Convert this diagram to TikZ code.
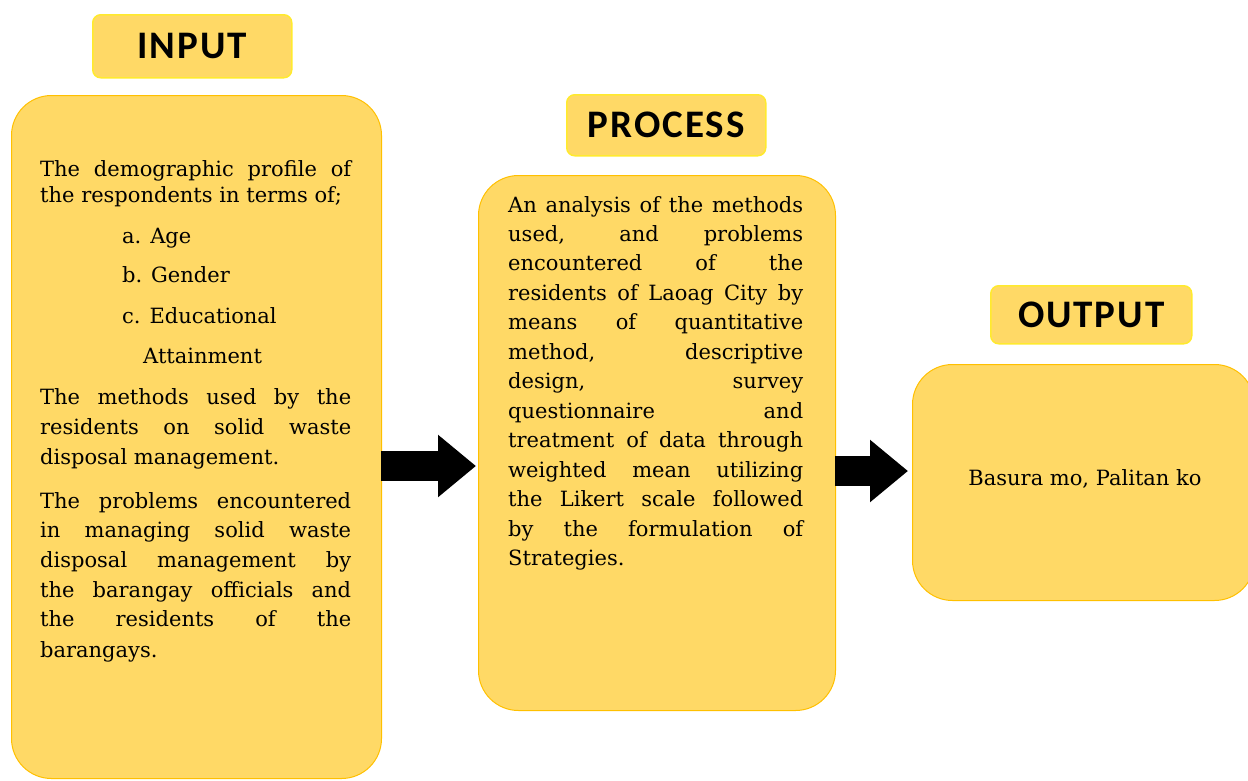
\documentclass[tikz,border=0pt]{standalone}
\usepackage{fontspec}
\setmainfont{DejaVu Serif}
\newfontfamily\headfont[LetterSpace=5]{Carlito}
\usetikzlibrary{arrows.meta}
\definecolor{boxfill}{HTML}{FFD966}
\definecolor{boxline}{HTML}{FFC000}
\definecolor{labline}{HTML}{FFEA2E}
\newcommand\jl[2]{\makebox[#1][s]{#2}}
\begin{document}
\begin{tikzpicture}[x=1pt,y=-1pt,
  bigbox/.style={draw=boxline, line width=1pt, fill=boxfill, rounded corners=40pt, anchor=north west, inner sep=0pt},
  labbox/.style={draw=labline, line width=1.5pt, fill=boxfill, rounded corners=8pt, anchor=north west, inner sep=0pt,
    font=\headfont\bfseries\fontsize{39}{44}\selectfont},
  txt/.style={anchor=base west, inner sep=0pt, font=\fontsize{21}{25}\selectfont},
  bigarrow/.style={line width=30pt, -{Triangle[length=38pt,width=60pt]}}]
\useasboundingbox (0,0) rectangle (1248,780);
% boxes
\node[bigbox, minimum width=370pt, minimum height=683pt] (inbox) at (11,95) {};
\node[bigbox, minimum width=357pt, minimum height=535pt] (procbox) at (478,175) {};
\node[bigbox, minimum width=342pt, minimum height=236pt] (outbox) at (912,364) {};
% labels
\node[labbox, minimum width=199pt, minimum height=63pt] (inlab) at (92,14) {INPUT};
\node[labbox, minimum width=199pt, minimum height=61pt] (proclab) at (566,94) {PROCESS};
\node[labbox, minimum width=201pt, minimum height=58pt] (outlab) at (990,285) {OUTPUT};
% input text
\node[txt] (i1) at (40,176) {\jl{311pt}{The demographic profile of}};
\node[txt] (i2) at (40,202) {the respondents in terms of;};
\node[txt] (i3) at (122,243) {a. Age};
\node[txt] (i4) at (122,282) {b. Gender};
\node[txt] (i5) at (122,323) {c. Educational};
\node[txt] (i6) at (143,363) {Attainment};
\node[txt] (i7) at (40,404) {\jl{311pt}{The methods used by the}};
\node[txt] (i8) at (40,434) {\jl{311pt}{residents on solid waste}};
\node[txt] (i9) at (40,464) {disposal management.};
\node[txt] (i10) at (40,508) {\jl{311pt}{The problems encountered}};
\node[txt] (i11) at (40,537) {\jl{311pt}{in managing solid waste}};
\node[txt] (i12) at (40,567) {\jl{311pt}{disposal management by}};
\node[txt] (i13) at (40,597) {\jl{311pt}{the barangay officials and}};
\node[txt] (i14) at (40,626) {\jl{311pt}{the residents of the}};
\node[txt] (i15) at (40,657) {barangays.};
% process text
\node[txt] (p1) at (508,212) {\jl{295pt}{An analysis of the methods}};
\node[txt] (p2) at (508,241) {\jl{295pt}{used, and problems}};
\node[txt] (p3) at (508,270) {\jl{295pt}{encountered of the}};
\node[txt] (p4) at (508,300) {\jl{295pt}{residents of Laoag City by}};
\node[txt] (p5) at (508,329) {\jl{295pt}{means of quantitative}};
\node[txt] (p6) at (508,359) {\jl{295pt}{method, descriptive}};
\node[txt] (p7) at (508,388) {\jl{295pt}{design, survey}};
\node[txt] (p8) at (508,418) {\jl{295pt}{questionnaire and}};
\node[txt] (p9) at (508,447) {\jl{295pt}{treatment of data through}};
\node[txt] (p10) at (508,477) {\jl{295pt}{weighted mean utilizing}};
\node[txt] (p11) at (508,506) {\jl{295pt}{the Likert scale followed}};
\node[txt] (p12) at (508,536) {\jl{295pt}{by the formulation of}};
\node[txt] (p13) at (508,565) {Strategies.};
% output text
\node[txt, anchor=base] (o1) at (1085,485) {Basura mo, Palitan ko};
% arrows
\coordinate (a1) at (381,466);
\coordinate (a2) at (835,471);
\draw[bigarrow] (a1) -- ([xshift=-2pt]a1 -| procbox.west);
\draw[bigarrow] (a2) -- ([xshift=-4pt]a2 -| outbox.west);
\end{tikzpicture}
\end{document}
